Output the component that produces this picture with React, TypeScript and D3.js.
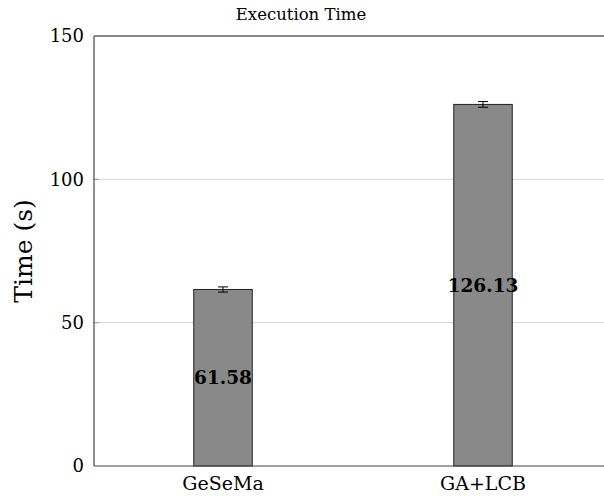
import React from "react";
import * as d3 from "d3";

const categories = ["GeSeMa", "GA+LCB"];
const values = [61.58, 126.13];
const errors = [0.9, 1.0];
const labels = ["61.58", "126.13"];
const yTicks = [0, 50, 100, 150];
const title = "Execution Time";
const yLabel = "Time (s)";

const W = 604, H = 496;
const M = { left: 94, right: 612, top: 36, bottom: 466 };
const FONT = "DejaVu Serif";

export default function App() {
  const x = d3.scalePoint<string>().domain(categories).range([223, 483]);
  const y = d3.scaleLinear().domain([0, 150]).range([M.bottom, M.top]);
  const barW = 58.5;
  return (
    <svg width={W} height={H} style={{ position: "absolute", left: 0, top: 0 }}>
      <rect width={W} height={H} fill="#fff" />
      {yTicks.filter(t => t > 0 && t < 150).map(t => (
        <g key={t}>
          <line x1={M.left} x2={M.right} y1={y(t)} y2={y(t)} stroke="#d6d6d6" strokeWidth={1} />
          <line x1={M.left} x2={M.left + 5} y1={y(t)} y2={y(t)} stroke="#999" strokeWidth={1} />
        </g>
      ))}
      {categories.map((c, i) => {
        const cx = x(c)!;
        const v = values[i];
        return (
          <g key={c}>
            <rect x={cx - barW / 2} y={y(v)} width={barW} height={y(0) - y(v)} fill="#898989" stroke="#222" strokeWidth={1} />
            <line x1={cx} x2={cx} y1={y(v + errors[i])} y2={y(v - errors[i])} stroke="#000" strokeWidth={1} />
            <line x1={cx - 5} x2={cx + 5} y1={y(v + errors[i])} y2={y(v + errors[i])} stroke="#000" strokeWidth={1} />
            <line x1={cx - 5} x2={cx + 5} y1={y(v - errors[i])} y2={y(v - errors[i])} stroke="#000" strokeWidth={1} />
            <text x={cx} y={y(v / 2)} dy="0.36em" textAnchor="middle" fontFamily={FONT} fontWeight="bold" fontSize={18.5} fill="#000">{labels[i]}</text>
            <text x={cx} y={490} textAnchor="middle" fontFamily={FONT} fontSize={19} fill="#000">{c}</text>
          </g>
        );
      })}
      <line x1={M.left} x2={M.right} y1={M.top} y2={M.top} stroke="#111" strokeWidth={1.2} />
      <line x1={M.left} x2={M.left} y1={M.top} y2={M.bottom} stroke="#444" strokeWidth={1.2} />
      <line x1={M.left} x2={M.right} y1={M.bottom} y2={M.bottom} stroke="#444" strokeWidth={1.2} />
      {yTicks.map(t => (
        <text key={t} x={M.left - 10} y={y(t)} dy="0.36em" textAnchor="end" fontFamily={FONT} fontSize={18} fill="#000">{t}</text>
      ))}
      <text x={301} y={20} textAnchor="middle" fontFamily={FONT} fontSize={16.5} fill="#000">{title}</text>
      <text transform={`translate(32, ${(M.top + M.bottom) / 2}) rotate(-90)`} textAnchor="middle" fontFamily={FONT} fontSize={25} fill="#000">{yLabel}</text>
    </svg>
  );
}
